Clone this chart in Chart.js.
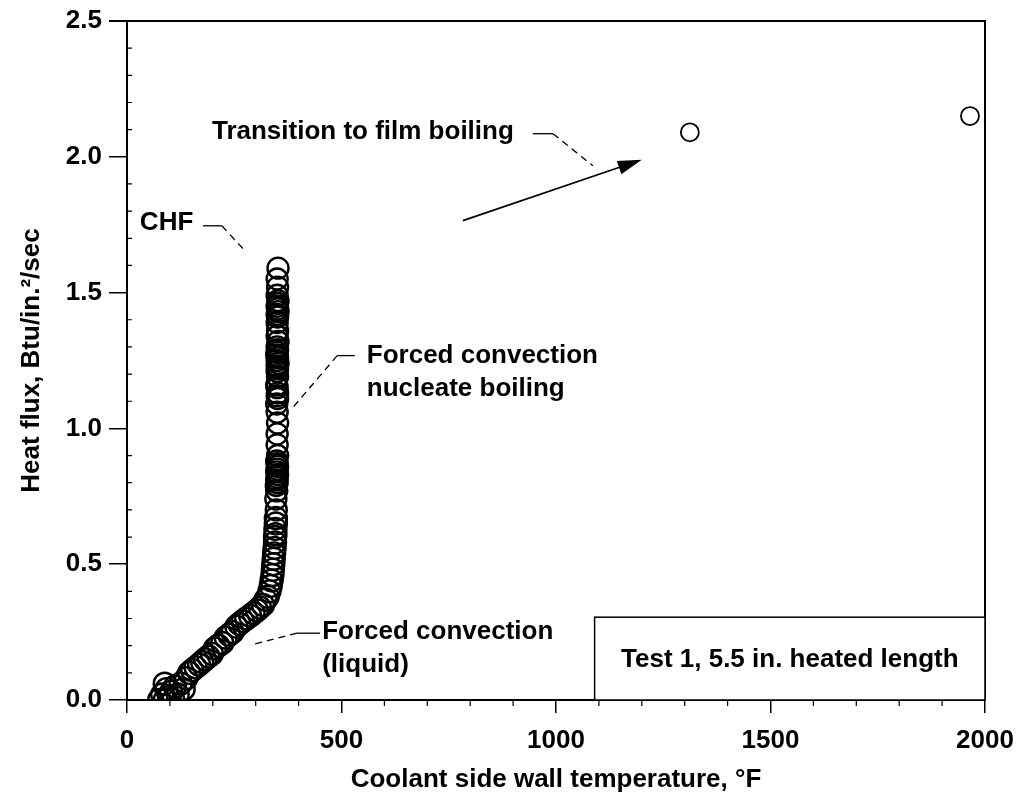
<!DOCTYPE html>
<html>
<head>
<meta charset="utf-8">
<script src="https://cdn.jsdelivr.net/npm/chart.js@4"></script>
<style>
  html, body { margin: 0; padding: 0; background: #fff; }
  #wrap { width: 1021px; height: 797px; position: relative; }
</style>
</head>
<body>
<div id="wrap"><canvas id="boilChart"></canvas></div>
<script>
// forced convection (liquid) up into the knee
const liquidTemp = [75, 82, 88, 92, 98, 103, 108, 112, 118, 88, 125, 132, 138, 145, 152,
  160, 168, 175, 182, 190, 198, 205, 213, 222, 230, 238, 246, 255, 262, 270,
  278, 287, 295, 303, 310, 317, 323, 328, 332, 335, 337, 339, 340, 341, 342,
  343, 344, 345, 345, 346, 346, 347, 347];
const liquidFlux = [0.00, 0.02, 0.00, 0.04, 0.01, 0.03, 0.00, 0.05, 0.02, 0.06, 0.06, 0.04, 0.08, 0.10, 0.11,
  0.12, 0.13, 0.14, 0.15, 0.16, 0.17, 0.19, 0.20, 0.21, 0.23, 0.24, 0.25, 0.27, 0.28, 0.29,
  0.30, 0.31, 0.32, 0.33, 0.34, 0.35, 0.37, 0.38, 0.40, 0.42, 0.44, 0.46, 0.48, 0.50, 0.52,
  0.54, 0.56, 0.58, 0.60, 0.61, 0.63, 0.65, 0.67];

// nucleate boiling column up to CHF
const nucleateTemp = [348, 347, 349, 348, 350, 349, 350, 351, 349, 350, 351, 350, 349, 351, 350,
  350, 351, 350, 349, 351, 350, 351, 350, 349, 351, 350, 351, 350, 352, 350,
  351, 349, 350, 351, 350, 352, 350, 351, 350, 351, 350, 352, 351, 350, 351,
  352, 350, 351, 350, 352];
const nucleateFlux = [0.70, 0.74, 0.77, 0.79, 0.80, 0.81, 0.82, 0.83, 0.84, 0.85, 0.86, 0.87, 0.88, 0.90, 0.94,
  0.98, 1.02, 1.06, 1.09, 1.11, 1.12, 1.13, 1.15, 1.16, 1.19, 1.21, 1.22, 1.23, 1.24, 1.25,
  1.26, 1.27, 1.28, 1.29, 1.30, 1.32, 1.34, 1.36, 1.39, 1.41, 1.42, 1.43, 1.44, 1.45, 1.46,
  1.47, 1.49, 1.52, 1.55, 1.59];

// film boiling points
const filmTemp = [1312, 1965];
const filmFlux = [2.09, 2.15];

const xTickLabels = ['0', '500', '1000', '1500', '2000'];
const yTickLabels = ['0.0', '0.5', '1.0', '1.5', '2.0', '2.5'];

const FONT = '"Liberation Sans", Arial, sans-serif';

// callouts, in data units
const notes = [
  { lines: ['Transition to film boiling'], x: 198, y: 2.092,
    leader: [[946, 2.085], [993, 2.085], [1086, 1.967]] },
  { lines: ['CHF'], x: 30, y: 1.757,
    leader: [[177, 1.746], [221, 1.746], [275, 1.654]] },
  { lines: ['Forced convection', 'nucleate boiling'], x: 559, y: 1.268,
    leader: [[531, 1.268], [490, 1.268], [385, 1.074]] },
  { lines: ['Forced convection', '(liquid)'], x: 455, y: 0.25,
    leader: [[450, 0.246], [396, 0.246], [287, 0.202]] }
];
const arrowFrom = [783, 1.765];
const arrowTo = [1200, 1.989];
const boxRange = { x0: 1090, x1: 2000, y0: 0, y1: 0.305 };
const boxText = 'Test 1, 5.5 in. heated length';

function toPoints(xs, ys) {
  return xs.map((x, i) => ({ x: x, y: ys[i] }));
}

const decor = {
  id: 'decor',
  afterDraw(chart) {
    const ctx = chart.ctx;
    const xs = chart.scales.x, ys = chart.scales.y;
    const area = chart.chartArea;
    const px = v => xs.getPixelForValue(v);
    const py = v => ys.getPixelForValue(v);
    ctx.save();
    ctx.strokeStyle = '#000';
    ctx.fillStyle = '#000';

    // frame top + right
    ctx.lineWidth = 2;
    ctx.beginPath();
    ctx.moveTo(area.left - 18, area.top);
    ctx.lineTo(area.right, area.top);
    ctx.lineTo(area.right, area.bottom);
    ctx.stroke();

    // minor ticks
    ctx.lineWidth = 1.2;
    ctx.beginPath();
    for (let v = 100; v < 2000; v += 100) {
      if (v % 500 === 0) continue;
      ctx.moveTo(px(v), area.bottom);
      ctx.lineTo(px(v), area.bottom + 6);
    }
    for (let k = 1; k < 25; k++) {
      if (k % 5 === 0) continue;
      const y = py(k / 10);
      ctx.moveTo(area.left, y);
      ctx.lineTo(area.left + 5, y);
    }
    ctx.stroke();

    // legend box
    ctx.lineWidth = 1.5;
    const bx0 = px(boxRange.x0), bx1 = px(boxRange.x1);
    const by0 = py(boxRange.y0), by1 = py(boxRange.y1);
    ctx.fillStyle = '#fff';
    ctx.fillRect(bx0, by1, bx1 - bx0, by0 - by1);
    ctx.strokeRect(bx0, by1, bx1 - bx0, by0 - by1);
    ctx.fillStyle = '#000';
    ctx.font = 'bold 26px ' + FONT;
    ctx.textAlign = 'center';
    ctx.textBaseline = 'middle';
    ctx.fillText(boxText, (bx0 + bx1) / 2, (by0 + by1) / 2 + 1);

    // callout text + leaders
    ctx.textAlign = 'left';
    notes.forEach(n => {
      n.lines.forEach((t, i) => ctx.fillText(t, px(n.x), py(n.y) + i * 33));
      const L = n.leader;
      ctx.lineWidth = 1.3;
      ctx.setLineDash([]);
      ctx.beginPath();
      ctx.moveTo(px(L[0][0]), py(L[0][1]));
      ctx.lineTo(px(L[1][0]), py(L[1][1]));
      ctx.stroke();
      ctx.setLineDash([7, 5]);
      ctx.beginPath();
      ctx.moveTo(px(L[1][0]), py(L[1][1]));
      ctx.lineTo(px(L[2][0]), py(L[2][1]));
      ctx.stroke();
    });
    ctx.setLineDash([]);

    // arrow
    const ax0 = px(arrowFrom[0]), ay0 = py(arrowFrom[1]);
    const ax1 = px(arrowTo[0]), ay1 = py(arrowTo[1]);
    const ang = Math.atan2(ay1 - ay0, ax1 - ax0);
    ctx.lineWidth = 1.6;
    ctx.beginPath();
    ctx.moveTo(ax0, ay0);
    ctx.lineTo(ax1 - 18 * Math.cos(ang), ay1 - 18 * Math.sin(ang));
    ctx.stroke();
    ctx.beginPath();
    ctx.moveTo(ax1, ay1);
    ctx.lineTo(ax1 - 24 * Math.cos(ang) + 7 * Math.sin(ang), ay1 - 24 * Math.sin(ang) - 7 * Math.cos(ang));
    ctx.lineTo(ax1 - 24 * Math.cos(ang) - 7 * Math.sin(ang), ay1 - 24 * Math.sin(ang) + 7 * Math.cos(ang));
    ctx.closePath();
    ctx.fill();
    ctx.restore();
  }
};

const circleStyle = {
  pointStyle: 'circle',
  backgroundColor: 'rgba(0,0,0,0)',
  borderColor: '#000',
  showLine: false
};

new Chart(document.getElementById('boilChart'), {
  type: 'scatter',
  data: {
    datasets: [
      Object.assign({ label: 'liquid', data: toPoints(liquidTemp, liquidFlux), pointRadius: 11, pointBorderWidth: 2.4 }, circleStyle),
      Object.assign({ label: 'nucleate', data: toPoints(nucleateTemp, nucleateFlux), pointRadius: 10.5, pointBorderWidth: 2.4 }, circleStyle),
      Object.assign({ label: 'film', data: toPoints(filmTemp, filmFlux), pointRadius: 9, pointBorderWidth: 1.8 }, circleStyle)
    ]
  },
  options: {
    responsive: true,
    maintainAspectRatio: false,
    animation: false,
    layout: { padding: { left: 0, top: 21, right: 36, bottom: 0 } },
    plugins: { legend: { display: false }, tooltip: { enabled: false } },
    elements: { point: { hoverRadius: 10 } },
    scales: {
      x: {
        type: 'linear',
        min: 0, max: 2000,
        afterFit: s => { s.height = 97; s.paddingLeft = 0; s.paddingRight = 0; },
        ticks: {
          stepSize: 500,
          color: '#000',
          font: { family: FONT, size: 26, weight: 'bold' },
          padding: 12,
          maxRotation: 0,
          callback: (v, i) => xTickLabels[i]
        },
        grid: { drawOnChartArea: false, drawTicks: true, tickLength: 13, color: '#000', lineWidth: 1.5 },
        border: { display: true, color: '#000', width: 2 },
        title: {
          display: true,
          text: 'Coolant side wall temperature, °F',
          color: '#000',
          font: { family: FONT, size: 26, weight: 'bold' },
          padding: { top: 0, bottom: 2 }
        }
      },
      y: {
        type: 'linear',
        min: 0, max: 2.5,
        afterFit: s => { s.width = 127; s.paddingTop = 0; s.paddingBottom = 0; },
        ticks: {
          stepSize: 0.5,
          color: '#000',
          font: { family: FONT, size: 26, weight: 'bold' },
          padding: 7,
          callback: (v, i) => yTickLabels[i]
        },
        grid: { drawOnChartArea: false, drawTicks: true, tickLength: 18, color: '#000', lineWidth: 1.5 },
        border: { display: true, color: '#000', width: 2 },
        title: {
          display: true,
          text: 'Heat flux, Btu/in.²/sec',
          color: '#000',
          font: { family: FONT, size: 26, weight: 'bold' },
          padding: { top: 16, bottom: 0 }
        }
      }
    }
  },
  plugins: [decor]
});
</script>
</body>
</html>
